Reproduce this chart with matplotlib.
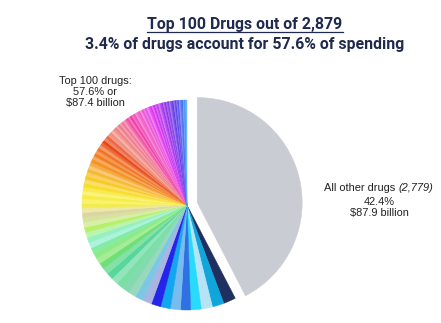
import numpy as np
import matplotlib
matplotlib.use("Agg")
import matplotlib.pyplot as plt
from matplotlib.colors import to_rgb
from matplotlib.lines import Line2D

# Share of total spending (%), grey wedge first, then the top 100 drugs by rank
other_share = 42.4
drug_share = [
    1.90, 1.80, 1.72, 1.62, 1.56, 1.54, 1.50, 1.48, 1.40, 1.25,
    1.18, 1.14, 1.10, 1.06, 1.02, 0.98, 0.95, 0.92, 0.90, 0.88,
    0.85, 0.83, 0.81, 0.79, 0.77, 0.75, 0.73, 0.72, 0.70, 0.69,
    0.62, 0.61, 0.60, 0.59, 0.58, 0.57, 0.56, 0.55, 0.54, 0.53,
    0.52, 0.51, 0.50, 0.49, 0.48, 0.47, 0.46, 0.46, 0.45, 0.44,
    0.37, 0.37, 0.36, 0.35, 0.35, 0.34, 0.34, 0.33, 0.32, 0.32,
    0.31, 0.31, 0.31, 0.31, 0.30, 0.30, 0.29, 0.29, 0.29, 0.28,
    0.28, 0.28, 0.27, 0.27, 0.27, 0.26, 0.26, 0.26, 0.25, 0.25,
    0.25, 0.25, 0.24, 0.24, 0.24, 0.24, 0.23, 0.23, 0.23, 0.23,
    0.22, 0.21, 0.21, 0.21, 0.21, 0.20, 0.20, 0.20, 0.20, 0.20,
]

title_line1 = "Top 100 Drugs out of 2,879"
title_line2 = "3.4% of drugs account for 57.6% of spending"
top_label = "Top 100 drugs:\n57.6% or\n$87.4 billion"
other_label_a = "All other drugs "
other_label_b = "(2,779)"
other_label_rest = "42.4%\n$87.9 billion"

# ---- colours -------------------------------------------------------------
grey = "#c9ccd2"
lead_colors = ["#1f2f5f", "#10a6dc", "#b6e3f5", "#28dafb", "#2f70e2",
               "#76bcef", "#12a6ee", "#2424ea", "#a9b4e0", "#7cc6e6"]

# rainbow ramp along the remaining arc (degrees clockwise from the grey wedge)
ramp = [
    (56, "#4cb890"), (66, "#7ee0a8"), (76, "#52d49a"), (86, "#74e454"),
    (96, "#8ef0e0"), (104, "#b4f05c"), (112, "#dcd4a8"), (118, "#f6f040"),
    (126, "#f8e830"), (134, "#f8c428"), (142, "#f49424"), (149, "#f07018"),
    (155, "#e84414"), (161, "#f08c78"), (168, "#f07890"), (175, "#f038a8"),
    (181, "#f060d0"), (187, "#e030f0"), (193, "#a830ec"), (198, "#7030e4"),
    (203, "#4a4cec"), (207.4, "#34a4f4"),
]
ramp_pos = np.array([p for p, _ in ramp])
ramp_rgb = np.array([to_rgb(c) for _, c in ramp])
tint = [0.0, 0.25, 0.06, 0.36, 0.14, 0.0, 0.28]

colors = list(lead_colors)
cum = np.cumsum(drug_share) * 3.6
for i in range(len(lead_colors), len(drug_share)):
    mid = cum[i] - drug_share[i] * 1.8
    rgb = np.array([np.interp(mid, ramp_pos, ramp_rgb[:, k]) for k in range(3)])
    t = tint[i % len(tint)]
    colors.append(tuple(rgb + (1 - rgb) * t))

# ---- figure --------------------------------------------------------------
W, H = 441, 323
fig = plt.figure(figsize=(W / 100, H / 100), dpi=100)
fig.patch.set_facecolor("white")

R = 105.0          # pie radius in pixels
cx, cy = 187.0, 205.0
half = 130.0
ax = fig.add_axes([(cx - half) / W, (H - cy - half) / H, 2 * half / W, 2 * half / H])

values = [other_share] + drug_share
explode = [0.1] + [0.0] * len(drug_share)
wedges, _ = ax.pie(values, colors=[grey] + colors, explode=explode,
                   startangle=90, counterclock=False,
                   wedgeprops={"linewidth": 0.35})
for w in wedges:
    w.set_edgecolor(w.get_facecolor())
lim = half / R
ax.set_xlim(-lim, lim)
ax.set_ylim(-lim, lim)
ax.set_aspect("auto")
ax.axis("off")

navy = "#1f2a4e"
t1 = fig.text(245 / W, 1 - 24 / H, title_line1, ha="center", va="center",
              fontsize=11.4, fontweight="bold", color=navy, family="Roboto")
fig.text(245 / W, 1 - 44 / H, title_line2, ha="center", va="center",
         fontsize=11.4, fontweight="bold", color=navy, family="Roboto")

lab_kw = dict(fontsize=7.9, color="#222222", family="Liberation Sans")
fig.text(95 / W, 1 - 92 / H, top_label, ha="center", va="center",
         linespacing=1.15, **lab_kw)

fig.canvas.draw()
renderer = fig.canvas.get_renderer()

# underline under the first title line
bb = t1.get_window_extent(renderer)
yline = (bb.y0 - 0.3) / H
fig.add_artist(Line2D([bb.x0 / W, bb.x1 / W], [yline, yline],
                      color=navy, linewidth=0.9, transform=fig.transFigure))

# first line of the right label: plain text followed by italic count
xc, y1 = 379.0, 188.0
ta = fig.text(0, 1 - y1 / H, other_label_a, ha="left", va="center", **lab_kw)
tb = fig.text(0, 1 - y1 / H, other_label_b, ha="left", va="center",
              style="italic", **lab_kw)
wa = ta.get_window_extent(renderer).width
wb = tb.get_window_extent(renderer).width
x0 = xc - (wa + wb) / 2
ta.set_x(x0 / W)
tb.set_x((x0 + wa) / W)
fig.text(xc / W, 1 - 207.5 / H, other_label_rest, ha="center", va="center",
         linespacing=1.15, **lab_kw)

fig.savefig("out.png", dpi=100, facecolor="white")
